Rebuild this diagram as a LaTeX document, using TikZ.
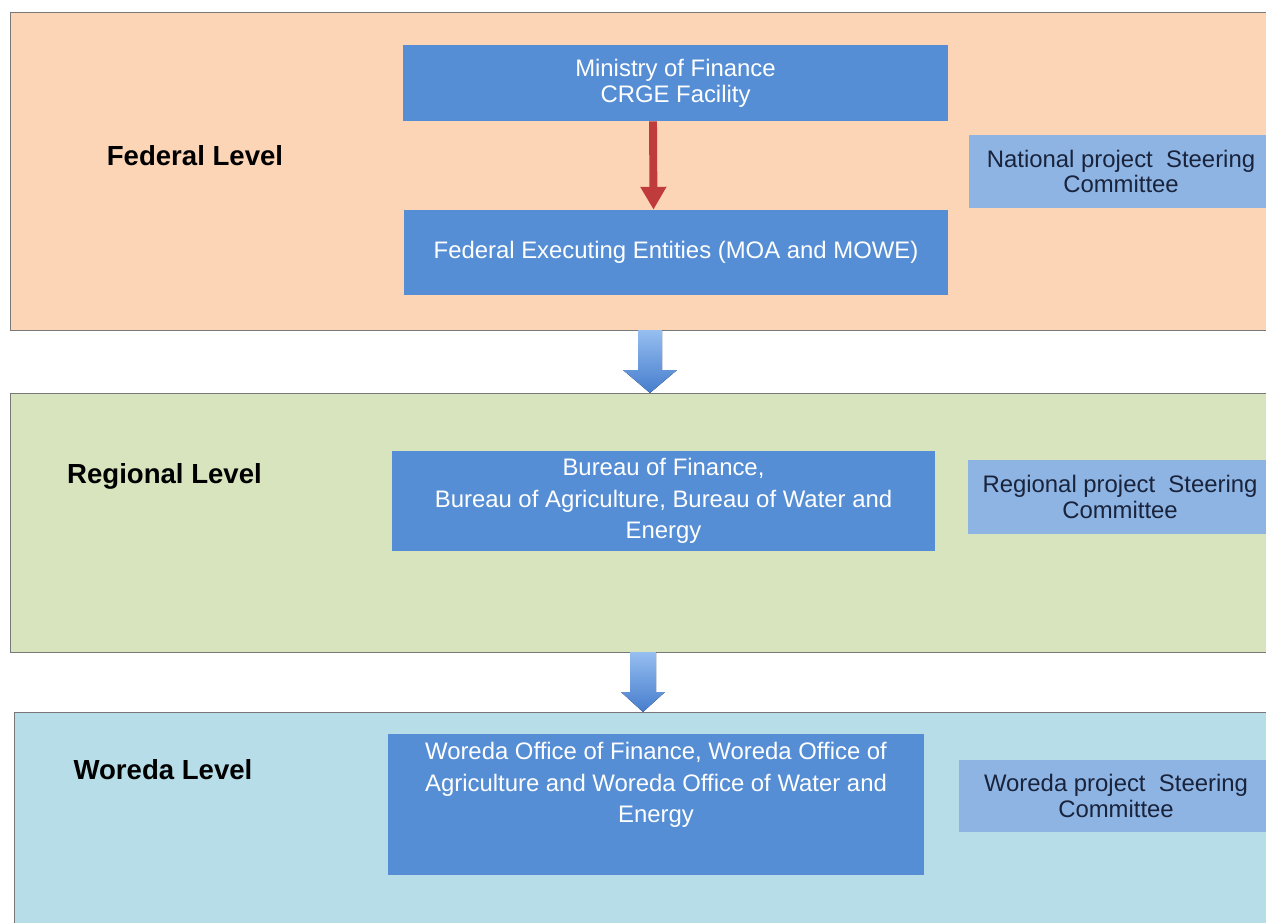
\documentclass[tikz,border=0pt]{standalone}
\usepackage{fontspec}
\setmainfont{Liberation Sans}
\usetikzlibrary{arrows.meta,calc}
\definecolor{peach}{RGB}{251,213,181}
\definecolor{sage}{RGB}{215,228,189}
\definecolor{skyb}{RGB}{183,221,232}
\definecolor{boxblue}{RGB}{85,142,213}
\definecolor{lightblue}{RGB}{142,180,227}
\definecolor{navy}{RGB}{25,35,60}
\definecolor{panelline}{RGB}{120,120,120}
\definecolor{redarrow}{RGB}{192,60,60}
\definecolor{arrowtop}{RGB}{150,190,240}
\definecolor{arrowbot}{RGB}{70,125,205}
\tikzset{
  panel/.style={draw=panelline, line width=0.8pt, anchor=north west, inner sep=0pt},
  mainbox/.style={fill=boxblue, draw=none, text=white, align=center, font=\fontsize{13.6}{14.7}\selectfont, inner sep=0pt},
  sidebox/.style={fill=lightblue, draw=none, text=navy, align=center, font=\fontsize{13.6}{14.7}\selectfont, inner sep=0pt},
  levellabel/.style={font=\bfseries\fontsize{15.7}{18}\selectfont, text=black, inner sep=0pt},
  blockarrow/.style={top color=arrowtop, bottom color=arrowbot, draw=none}
}
\begin{document}
\begin{tikzpicture}[x=0.02cm, y=-0.02cm]
\useasboundingbox (0,0) rectangle (1266,922);
% panels
\node[panel, fill=peach, minimum width=25.4cm, minimum height=6.36cm] (fed) at (10,12) {};
\node[panel, fill=sage, minimum width=25.4cm, minimum height=5.18cm] (reg) at (10,393) {};
\node[panel, fill=skyb, minimum width=25.4cm, minimum height=4.6cm] (wor) at (14,712) {};
% level labels
\node[levellabel] (fedl) at (195,156) {Federal Level};
\node[levellabel] (regl) at (164.5,476) {Regional Level};
\node[levellabel] (worl) at (163,770) {Woreda Level};
% federal boxes
\node[mainbox, minimum width=10.9cm, minimum height=1.52cm] (mof) at (675.5,83) {Ministry of Finance\\CRGE Facility};
\node[mainbox, minimum width=10.88cm, minimum height=1.7cm] (fee) at (676,252.5) {Federal Executing Entities (MOA and MOWE)};
\node[sidebox, minimum width=6.1cm, minimum height=1.46cm] (nsc) at (1121,171.5) {National project\ \ Steering\\Committee};
\draw[redarrow, line width=4.5pt, -{Triangle[length=13pt,width=14pt]}] ($(mof.south)+(-22.5,0)$) -- ($(fee.north)+(-22.5,0)$);
% regional
\node[mainbox, minimum width=10.86cm, minimum height=2.0cm, font=\fontsize{13.6}{18.1}\selectfont] (rb) at (663.5,501) {Bureau of Finance,\\Bureau of Agriculture, Bureau of Water and\\Energy};
\node[sidebox, minimum width=6.1cm, minimum height=1.48cm] (rsc) at (1120,497) {Regional project\ \ Steering\\Committee};
% woreda
\node[mainbox, minimum width=10.72cm, minimum height=2.82cm] (wb) at (656,804.5) {};
\node[text=white, align=center, font=\fontsize{13.6}{18.1}\selectfont, inner sep=0pt] (wbt) at (656,785) {Woreda Office of Finance, Woreda Office of\\Agriculture and Woreda Office of Water and\\Energy};
\node[sidebox, minimum width=6.3cm, minimum height=1.44cm] (wsc) at (1116,796) {Woreda project\ \ Steering\\Committee};
% block arrows between panels
\coordinate (a1) at (650,330);
\coordinate (a2) at (643,652);
\fill[blockarrow] ($(a1)+(-12,0)$) -- ($(a1)+(12,0)$) -- ($(a1)+(12,40)$) -- ($(a1)+(27,40)$) -- ($(a1)+(0,63)$) -- ($(a1)+(-27,40)$) -- ($(a1)+(-12,40)$) -- cycle;
\fill[blockarrow] ($(a2)+(-13,0)$) -- ($(a2)+(13,0)$) -- ($(a2)+(13,40)$) -- ($(a2)+(22,40)$) -- ($(a2)+(0,60)$) -- ($(a2)+(-22,40)$) -- ($(a2)+(-13,40)$) -- cycle;
\end{tikzpicture}
\end{document}
